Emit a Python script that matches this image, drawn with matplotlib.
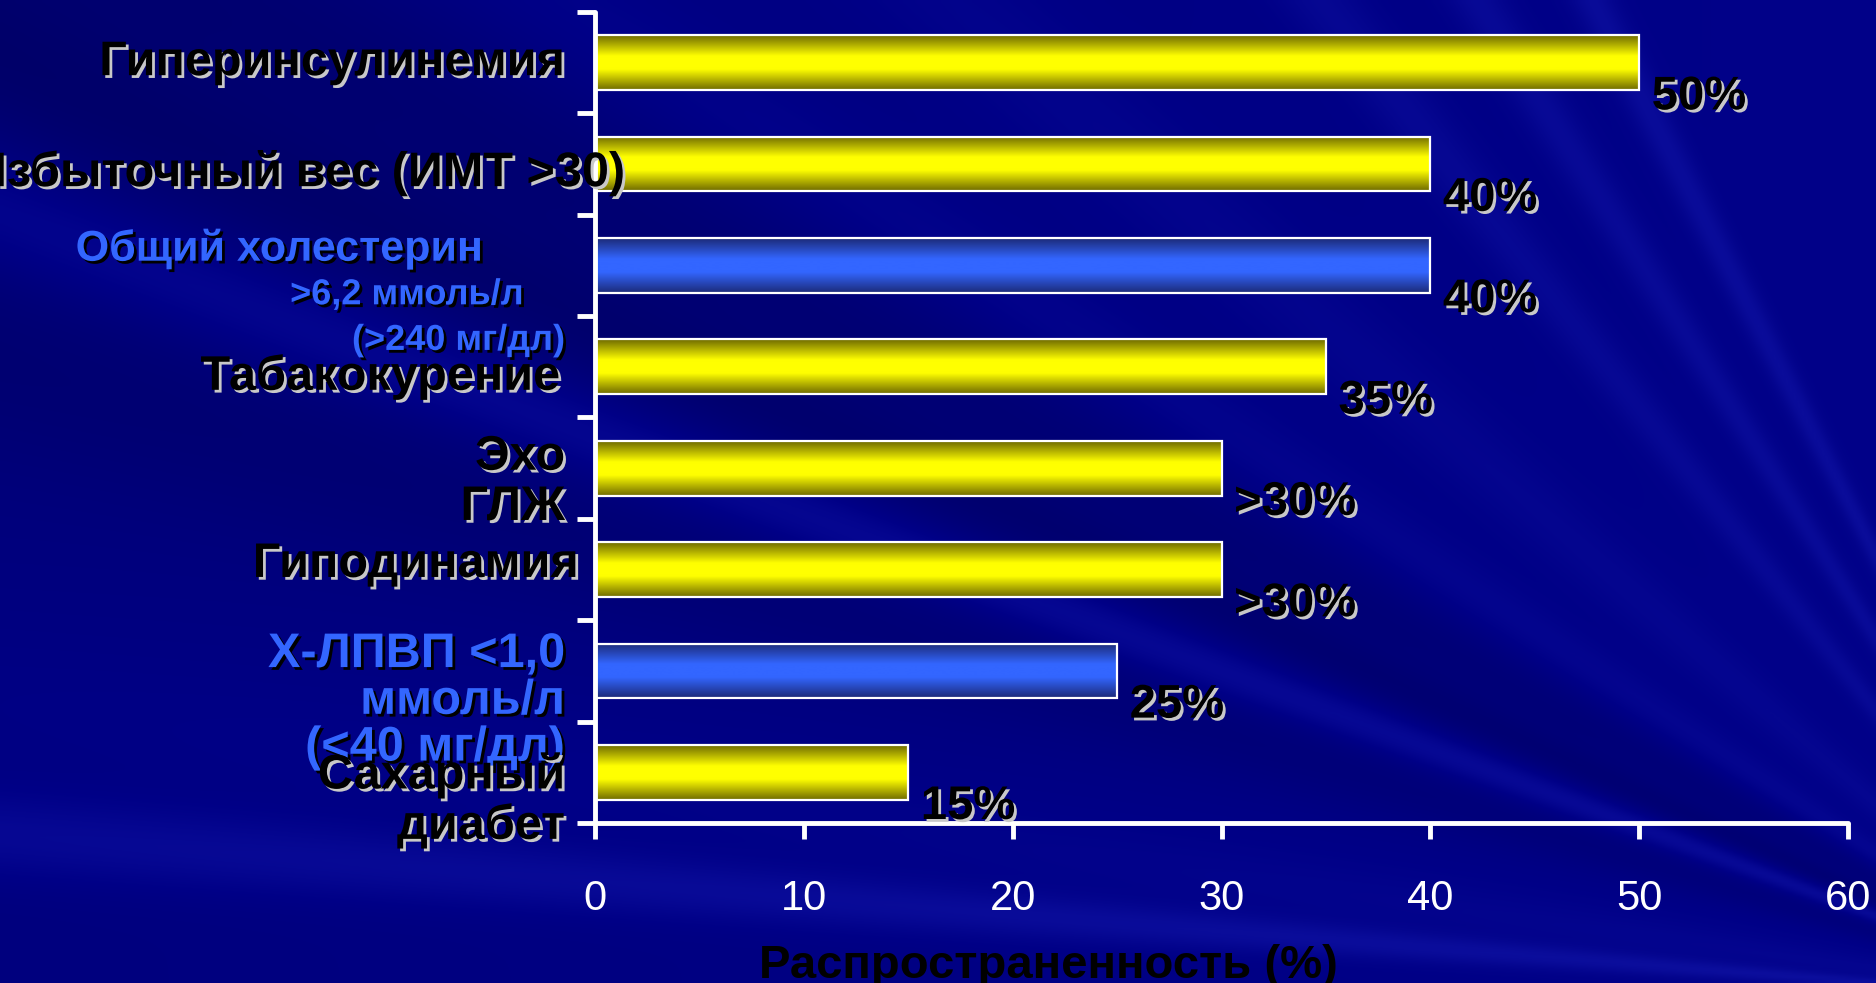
import numpy as np
import matplotlib
matplotlib.use('Agg')
import matplotlib.pyplot as plt
import matplotlib.patheffects as pe
from matplotlib.colors import LinearSegmentedColormap

plt.rcParams['font.family'] = ['Liberation Sans', 'DejaVu Sans']

# Risk factors, prevalence (%) and the printed value labels
categories = ['Гиперинсулинемия', 'Избыточный вес (ИМТ >30)', 'Общий холестерин',
              'Табакокурение', 'Эхо ГЛЖ', 'Гиподинамия', 'Х-ЛПВП', 'Сахарный диабет']
values = [50, 40, 40, 35, 30, 30, 25, 15]
value_labels = ['50%', '40%', '40%', '35%', '>30%', '>30%', '25%', '15%']
is_lipid = [False, False, True, False, False, False, True, False]
x_ticks = [0, 10, 20, 30, 40, 50, 60]

LIPID_BLUE = '#3366ff'

fig = plt.figure(figsize=(18.76, 9.83), dpi=100)

# slide background: navy with soft rays coming from the lower right
bg = fig.add_axes([0, 0, 1, 1], zorder=-1)
H, W = 246, 469
yy, xx = np.mgrid[0:H, 0:W]
px, py = xx * 4.0, yy * 4.0
phi = np.degrees(np.arctan2(1000 - py, 2100 - px))
shade = np.zeros_like(phi)
for ang, wid, amp in [(4.5, 1.2, 0.4), (8.0, 2.5, 0.12), (20.5, 1.4, 0.35), (24.0, 2.0, -0.35),
                      (28.0, 3.0, -0.3), (33.0, 2.0, 0.15), (41.0, 2.5, 0.15),
                      (52.0, 1.5, 0.25), (58.0, 1.2, 0.3), (63.0, 1.0, 0.35), (17.0, 3.0, -0.25)]:
    shade += amp * np.exp(-((phi - ang) / wid) ** 2)
shade += 0.22 * (px / 1876.0) - 0.16
base = np.array([0.0, 0.0, 0x86 / 255.0])
light = np.array([0.10, 0.12, 0.72])
dark = np.array([0.0, 0.0, 0.33])
img = np.empty((H, W, 3))
for c in range(3):
    img[..., c] = np.where(shade >= 0,
                           base[c] + (light[c] - base[c]) * np.clip(shade, 0, 1),
                           base[c] + (dark[c] - base[c]) * np.clip(-shade, 0, 1))
bg.imshow(img, aspect='auto', extent=[0, 1, 0, 1], interpolation='bilinear')
bg.axis('off')

ax = fig.add_axes([0.3172, 0.1628, 0.6679, 0.8250])
ax.set_facecolor('none')

y = np.arange(len(categories))
bar_h = 0.54

yellow_cmap = LinearSegmentedColormap.from_list(
    'ybar', [(0, '#6f6a00'), (0.38, '#ffff00'), (0.62, '#ffff00'), (1, '#6f6a00')])
blue_cmap = LinearSegmentedColormap.from_list(
    'bbar', [(0, '#1c2a78'), (0.38, '#3366ff'), (0.62, '#3366ff'), (1, '#1c2a78')])
grad = np.linspace(0, 1, 200).reshape(-1, 1)

bars = ax.barh(y, values, height=bar_h, facecolor='none', edgecolor='white',
               linewidth=1.6, zorder=3)
for bar, lip in zip(bars, is_lipid):
    x0, y0 = bar.get_x(), bar.get_y()
    ax.imshow(grad, extent=[x0, x0 + bar.get_width(), y0 + bar.get_height(), y0],
              cmap=blue_cmap if lip else yellow_cmap, aspect='auto',
              interpolation='bicubic', zorder=2)

ax.set_xlim(0, 60)
ax.set_ylim(len(categories) - 0.5, -0.5)
ax.set_aspect('auto')

for s in ['top', 'right']:
    ax.spines[s].set_visible(False)
for s in ['left', 'bottom']:
    ax.spines[s].set_color('white')
    ax.spines[s].set_linewidth(3.5)
    ax.spines[s].set_capstyle('round')

ax.set_xticks(x_ticks)
ax.set_xticklabels([str(t) for t in x_ticks])
ax.tick_params(axis='x', colors='white', length=11.5, width=3.5, pad=29, labelsize=30)
ax.set_yticks(np.arange(-0.5, len(categories), 1))
ax.set_yticklabels([])
ax.tick_params(axis='y', colors='white', length=13, width=3.5)

shadow_light = [pe.withSimplePatchShadow(offset=(2, -2), shadow_rgbFace='#c8c8c8', alpha=1.0)]
shadow_dark = [pe.withSimplePatchShadow(offset=(2, -2), shadow_rgbFace='black', alpha=1.0)]

# value labels next to the bar ends
for bar, lab in zip(bars, value_labels):
    ax.annotate(lab, xy=(bar.get_width(), bar.get_y() + bar.get_height() / 2),
                xytext=(9, -25), textcoords='offset points', ha='left', va='center',
                fontsize=34, fontweight='bold', color='black',
                path_effects=shadow_light, zorder=5, annotation_clip=False)

# category labels (left of the axis)
yt = ax.get_yaxis_transform()
lab_kw = dict(transform=yt, ha='right', va='center', fontweight='bold',
              clip_on=False, zorder=5)
ax.text(-0.024, 0.0, categories[0], fontsize=35, color='black',
        path_effects=shadow_light, **lab_kw)
ax.text(0.024, 1.09, categories[1], fontsize=35, color='black',
        path_effects=shadow_light, **lab_kw)
ax.text(-0.090, 1.84, categories[2], fontsize=31, color=LIPID_BLUE,
        path_effects=shadow_dark, **lab_kw)
ax.text(-0.057, 2.29, '>6,2 ммоль/л', fontsize=26, color=LIPID_BLUE,
        path_effects=shadow_dark, **lab_kw)
ax.text(-0.024, 2.74, '(>240 мг/дл)', fontsize=26, color=LIPID_BLUE,
        path_effects=shadow_dark, **lab_kw)
ax.text(-0.028, 3.10, categories[3], fontsize=35, color='black',
        path_effects=shadow_light, **lab_kw)
ax.text(-0.024, 4.14, 'Эхо\nГЛЖ', fontsize=35, color='black', linespacing=1.15,
        path_effects=shadow_light, **lab_kw)
ax.text(-0.013, 4.95, categories[5], fontsize=35, color='black',
        path_effects=shadow_light, **lab_kw)
ax.text(-0.024, 6.30, 'Х-ЛПВП <1,0\nммоль/л\n(<40 мг/дл)', fontsize=35,
        color=LIPID_BLUE, linespacing=1.05, path_effects=shadow_dark, **lab_kw)
ax.text(-0.024, 7.28, 'Сахарный\nдиабет', fontsize=35, color='black', linespacing=1.13,
        path_effects=shadow_light, **lab_kw)

ax.set_xlabel('Распространенность (%)', fontsize=34, fontweight='bold', color='black')
ax.xaxis.set_label_coords(0.362, -0.149)

fig.savefig('out.png', dpi=100)
